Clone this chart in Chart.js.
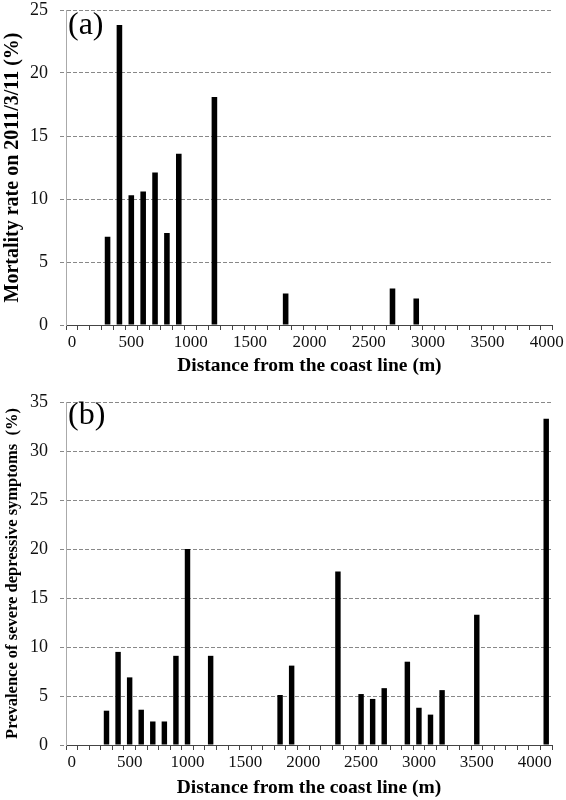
<!DOCTYPE html>
<html><head><meta charset="utf-8">
<script src="https://cdn.jsdelivr.net/npm/chart.js@4.4.0/dist/chart.umd.min.js"></script>
<style>
html,body{margin:0;padding:0;background:#fff;}
canvas{display:block;position:absolute;left:0;}
#ca{top:0}
#cb{top:378px}
</style></head><body>
<canvas id="ca" width="566" height="378"></canvas>
<canvas id="cb" width="566" height="422"></canvas>
<script>
// Category tick labels (distance from coast, m)
const categoriesA = ['0','100','200','300','400','500','600','700','800','900','1000','1100','1200','1300','1400','1500','1600','1700','1800','1900','2000','2100','2200','2300','2400','2500','2600','2700','2800','2900','3000','3100','3200','3300','3400','3500','3600','3700','3800','3900','4000'];
const categoriesB = ['0','100','200','300','400','500','600','700','800','900','1000','1100','1200','1300','1400','1500','1600','1700','1800','1900','2000','2100','2200','2300','2400','2500','2600','2700','2800','2900','3000','3100','3200','3300','3400','3500','3600','3700','3800','3900','4000','4100'];

// Panel (a): mortality rate on 2011/3/11 (%)
const distancesA = [300, 400, 500, 600, 700, 800, 900, 1200, 1800, 2700, 2900];
const mortality  = [7.0, 23.8, 10.3, 10.6, 12.1, 7.3, 13.6, 18.1, 2.5, 2.9, 2.1];

// Panel (b): prevalence of severe depressive symptoms (%)
const distancesB = [300, 400, 500, 600, 700, 800, 900, 1000, 1200, 1800, 1900, 2300, 2500, 2600, 2700, 2900, 3000, 3100, 3200, 3500, 4100];
const prevalence = [3.5, 9.5, 6.9, 3.6, 2.4, 2.4, 9.1, 20.0, 9.1, 5.1, 8.1, 17.7, 5.2, 4.7, 5.8, 8.5, 3.8, 3.1, 5.6, 13.3, 33.3];

const yMaxA = 25, yMaxB = 35, yStep = 5;
const labelEvery = 500;

function toSeries(cats, dists, vals) {
  return cats.map(c => { const i = dists.indexOf(Number(c)); return i < 0 ? null : vals[i]; });
}

const SERIF = '"Liberation Serif", "Times New Roman", serif';

const panelLabel = {
  id: 'panelLabel',
  afterDraw(chart, args, opts) {
    const {ctx, chartArea} = chart;
    ctx.save();
    ctx.font = '32px ' + SERIF;
    ctx.fillStyle = '#000';
    ctx.textBaseline = 'middle';
    ctx.textAlign = 'left';
    ctx.fillText(opts.text, chartArea.left + 2, chartArea.top + opts.dy);
    ctx.restore();
  }
};

function makeChart(id, cats, data, yMax, yTitle, yTitleSize, yTitlePad, panel, panelDy, pad, xHeight) {
  return new Chart(document.getElementById(id), {
    type: 'bar',
    data: { labels: cats, datasets: [{ data: data, backgroundColor: '#000', borderWidth: 0, barPercentage: 0.47, categoryPercentage: 1.0 }] },
    plugins: [panelLabel],
    options: {
      responsive: false,
      animation: false,
      layout: { padding: pad },
      plugins: { legend: { display: false }, tooltip: { enabled: false }, panelLabel: { text: panel, dy: panelDy } },
      scales: {
        x: {
          type: 'category',
          offset: true,
          grid: { offset: true, drawOnChartArea: false, drawTicks: true, tickLength: 5, color: '#444', lineWidth: 1 },
          border: { color: '#444', width: 1 },
          ticks: {
            autoSkip: false, maxRotation: 0, minRotation: 0, padding: 2,
            color: '#111', font: { family: SERIF, size: 17 },
            callback: function(v) { const l = this.getLabelForValue(v); return Number(l) % labelEvery === 0 ? l : ''; }
          },
          title: { display: true, text: 'Distance from the coast line (m)', color: '#000', font: { family: SERIF, size: 19.5, weight: 'bold' }, padding: { top: 0, bottom: 0 } },
          afterFit: s => { s.height = xHeight; }
        },
        y: {
          min: 0, max: yMax,
          grid: { color: '#888', lineWidth: 1, tickLength: 6, tickColor: '#888', tickBorderDash: [4, 2] },
          border: { color: '#aaa', width: 1, dash: [4, 2] },
          ticks: { stepSize: yStep, padding: 12, color: '#111', font: { family: SERIF, size: 18 } },
          title: { display: true, text: yTitle, color: '#000', font: { family: SERIF, size: yTitleSize, weight: 'bold' }, padding: { top: yTitlePad, bottom: 0 } },
          afterFit: s => { s.width = 66; s.paddingTop = 0; s.paddingBottom = 0; }
        }
      }
    }
  });
}

makeChart('ca', categoriesA, toSeries(categoriesA, distancesA, mortality), yMaxA,
  'Mortality rate on 2011/3/11 (%)', 20, 0.5, '(a)', 16, { top: 10, right: 13, left: 0, bottom: 0 }, 53);
makeChart('cb', categoriesB, toSeries(categoriesB, distancesB, prevalence), yMaxB,
  'Prevalence of severe depressive symptoms  (%)', 16.5, 2.5, '(b)', 14, { top: 24, right: 14, left: 0, bottom: 0 }, 55);
</script>
</body></html>
